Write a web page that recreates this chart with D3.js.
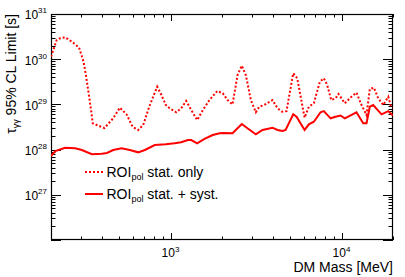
<!DOCTYPE html>
<html><head><meta charset="utf-8">
<script src="https://cdn.jsdelivr.net/npm/d3@7"></script>
<style>body{margin:0;background:#fff}svg{display:block;font-family:"Liberation Sans",Arial,sans-serif}</style>
</head><body>
<svg id="c" width="405" height="277"></svg>
<script>
const massStat = [200,216,226,242,265,292,310,320,331,344,351,379,411,462,505,553,600,647,692,757,836,885,939,987,1080,1155,1235,1322,1432,1545,1690,1875,2022,2154,2305,2466,2611,2756,2950,3154,3302,3533,3946,4225,4477,4767,5219,5509,6081,6443,6891,7468,7879,8247,8702,9225,9600,10450,11430,12230,13090,14000,14640,15460,16400,17550,18770,19350,20000];
const tauStat = [1.14e30,2.66e30,2.9e30,3.05e30,2.44e30,1.8e30,8.8e29,4.47e29,1.91e29,6.9e28,3.82e28,3.38e28,3.0e28,4.92e28,8.45e28,6.04e28,3.21e28,2.72e28,3.5e28,9.7e28,2.46e29,1.61e29,9.7e28,8.2e28,6.7e28,8.2e28,1.19e29,7.5e28,4.52e28,7.5e28,1.25e29,1.98e29,1.76e29,1.25e29,1.0e29,4.47e29,7.2e29,4.47e29,1.25e29,6.7e28,8.9e28,9.7e28,1.25e29,8.2e28,6.9e28,7.1e28,4.88e29,3.78e29,5.08e28,8.9e28,1.06e29,3.18e29,3.78e29,2.69e29,1.25e29,1.36e29,1.70e29,1.06e29,1.48e29,1.82e29,9.7e28,5.83e28,2.19e29,2.34e29,1.36e29,9.7e28,1.48e29,9.7e28,8.45e28];
const massSyst = [200,212,242,277,303,347,396,425,462,517,578,647,708,809,939,1055,1155,1262,1322,1432,1580,1766,1935,2051,2305,2466,2611,2818,3154,3451,3946,4225,4520,4710,5219,5456,6081,6443,6891,7540,7879,8632,9225,9860,10450,12230,13390,14000,14640,15320,17140,18770,19590,20000];
const tauSyst = [7.2e27,9.3e27,1.10e28,1.07e28,9.8e27,7.9e27,8.1e27,8.4e27,9.8e27,1.07e28,9.8e27,8.7e27,9.8e27,1.26e28,1.31e28,1.38e28,1.45e28,1.63e28,1.63e28,1.38e28,1.72e28,2.1e28,2.3e28,2.33e28,2.3e28,2.96e28,3.68e28,2.96e28,2.18e28,2.72e28,3.05e28,2.72e28,2.58e28,2.72e28,6.04e28,5.35e28,2.72e28,3.63e28,4.14e28,6.7e28,7.1e28,4.92e28,5.35e28,5.68e28,4.92e28,6.7e28,3.82e28,3.82e28,8.9e28,9.7e28,6.04e28,7.1e28,6.04e28,5.83e28];
const xDomain = [200, 20000];
const yDomain = [1e26, 1e31];
const xMajorExp = [3, 4];
const yMajorExp = [27, 28, 29, 30, 31];
const legendLabels = ["stat. only", "stat. + syst."];

const L = 51, R = 393, T = 14, B = 240;
const svg = d3.select("#c");
const x = d3.scaleLog().domain(xDomain).range([L, R]);
const y = d3.scaleLog().domain(yDomain).range([B, T]);

svg.append("defs").append("clipPath").attr("id","clip").append("rect")
  .attr("x", L).attr("y", T).attr("width", R-L).attr("height", B-T);

const isMajor = v => Math.abs(Math.log10(v) - Math.round(Math.log10(v))) < 1e-9;

const g = svg.append("g").attr("stroke", "#000").attr("stroke-width", 1);
x.ticks().forEach(v => {
  const px = Math.round(x(v)) + 0.5;
  const len = isMajor(v) ? 7 : 3.5;
  g.append("line").attr("x1", px).attr("x2", px).attr("y1", B).attr("y2", B - len);
  g.append("line").attr("x1", px).attr("x2", px).attr("y1", T).attr("y2", T + len);
});
y.ticks().forEach(v => {
  const py = Math.round(y(v)) + 0.5;
  const len = isMajor(v) ? 10 : 4.5;
  g.append("line").attr("x1", L).attr("x2", L + len).attr("y1", py).attr("y2", py);
  g.append("line").attr("x1", R).attr("x2", R - len).attr("y1", py).attr("y2", py);
});
svg.append("rect").attr("x", L + 0.5).attr("y", T + 0.5).attr("width", R - L - 1).attr("height", B - T - 1)
  .attr("fill", "none").attr("stroke", "#000").attr("stroke-width", 1.2);

xMajorExp.forEach(e => {
  const t = svg.append("text").attr("x", x(Math.pow(10, e))).attr("y", 257)
    .attr("text-anchor", "middle").attr("font-size", 12).attr("fill", "#000");
  t.append("tspan").text("10");
  t.append("tspan").attr("font-size", 8).attr("dy", -5).text(String(e));
});
yMajorExp.forEach(e => {
  const t = svg.append("text").attr("x", 47).attr("y", y(Math.pow(10, e)) + 5.3)
    .attr("text-anchor", "end").attr("font-size", 12).attr("fill", "#000");
  t.append("tspan").text("10");
  t.append("tspan").attr("font-size", 8).attr("dy", -6).text(String(e));
});

svg.append("text").attr("x", R).attr("y", 272).attr("text-anchor", "end")
  .attr("font-size", 14).attr("fill", "#000").text("DM Mass [MeV]");
const yl = svg.append("text").attr("transform", "translate(16," + T + ") rotate(-90)")
  .attr("text-anchor", "end").attr("font-size", 14).attr("fill", "#000");
yl.append("tspan").text("τ");
yl.append("tspan").attr("font-size", 9).attr("dy", 3).text("γγ");
yl.append("tspan").attr("dy", -3).text(" 95% CL Limit [s]");

const line = d3.line().x(d => x(d[0])).y(d => y(d[1]));
const plot = svg.append("g").attr("clip-path", "url(#clip)");
plot.append("path").datum(massStat.map((m, i) => [m, tauStat[i]]))
  .attr("d", line).attr("fill", "none").attr("stroke", "#ff0000").attr("stroke-width", 2)
  .attr("stroke-dasharray", "2,2");
plot.append("path").datum(massSyst.map((m, i) => [m, tauSyst[i]]))
  .attr("d", line).attr("fill", "none").attr("stroke", "#ff0000").attr("stroke-width", 2);

const legY = [172, 194];
const dashes = ["2,2", null];
legendLabels.forEach((lab, i) => {
  const ln = svg.append("line").attr("x1", 85).attr("x2", 103).attr("y1", legY[i]).attr("y2", legY[i])
    .attr("stroke", "#ff0000").attr("stroke-width", 2);
  if (dashes[i]) ln.attr("stroke-dasharray", dashes[i]);
  const t = svg.append("text").attr("x", 106.5).attr("y", legY[i] + 4.7).attr("font-size", 14).attr("fill", "#000");
  t.append("tspan").text("ROI");
  t.append("tspan").attr("font-size", 9).attr("dy", 3).text("pol");
  t.append("tspan").attr("dy", -3).text(" " + lab);
});
</script>
</body></html>
